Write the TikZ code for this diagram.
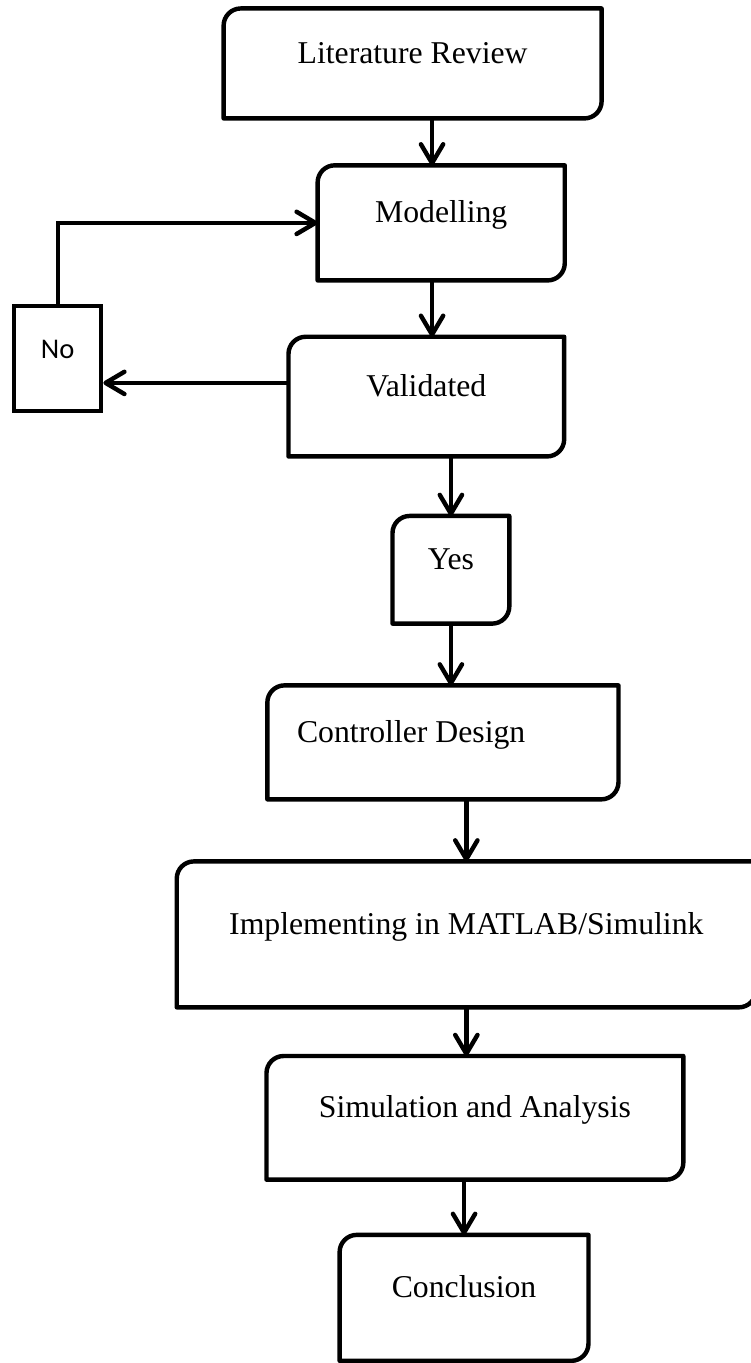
\documentclass[tikz,border=0pt]{standalone}
\usepackage{fontspec}
\setmainfont{Liberation Serif}
\newfontfamily\calibrifont{Carlito}
\usetikzlibrary{arrows.meta}

\begin{document}
\begin{tikzpicture}[
  font=\fontsize{15.8}{19}\selectfont,
  box/.style={inner sep=0pt,text height=0.8em,text depth=0.8em},
  frame/.style={line width=2.2pt,line join=round},
  nobox/.style={draw,line width=2.2pt,inner sep=0pt,text height=0.8em,
                text depth=0.8em,font=\calibrifont\fontsize{14.2}{16}\selectfont},
  flow/.style={-{Straight Barb[length=3.3mm,width=3.9mm,round]},line width=2.2pt}]

\useasboundingbox (0,0) rectangle (13.14,-23.85);

% ---- nodes ------------------------------------------------------------
\node[box,minimum width=6.60cm,minimum height=1.91cm] (lit)  at (7.22,-1.11)  {Literature Review};
\node[box,minimum width=4.31cm,minimum height=2.00cm] (mod)  at (7.72,-3.90)  {Modelling};
\node[box,minimum width=4.81cm,minimum height=2.08cm] (val)  at (7.46,-6.94)  {Validated};
\node[nobox,minimum width=1.52cm,minimum height=1.84cm] (no) at (1.01,-6.27)  {No};
\node[box,minimum width=2.03cm,minimum height=1.87cm] (yes)  at (7.89,-9.97)  {Yes};
\node[box,minimum width=6.13cm,minimum height=1.98cm] (ctl)  at (7.75,-12.99) {Controller Design\kern2em};
\node[box,minimum width=10.12cm,minimum height=2.54cm] (impl) at (8.16,-16.35) {Implementing in MATLAB/Simulink};
\node[box,minimum width=7.28cm,minimum height=2.15cm] (sim)  at (8.31,-19.56) {Simulation and Analysis};
\node[box,minimum width=4.34cm,minimum height=2.19cm] (conc) at (8.12,-22.71) {Conclusion};

% ---- frames: round top-left and bottom-right corners -----------------
\foreach \n in {lit,mod,val,yes,ctl,impl,sim,conc}
  \draw[frame] (\n.north) -- (\n.north east)
        [rounded corners=3mm] -- (\n.south east)
        [sharp corners] -- (\n.south west)
        [rounded corners=3mm] -- (\n.north west)
        [sharp corners] -- cycle;

% ---- edges ------------------------------------------------------------
\draw[flow] ([xshift=3.4mm]lit.south) -- ([xshift=3.4mm]lit.south |- mod.north);
\draw[flow] ([xshift=-1.6mm]mod.south) -- ([xshift=-1.6mm]mod.south |- val.north);
\draw[flow] (yes.north |- val.south) -- (yes.north);
\draw[flow] (yes.south) -- (yes.south |- ctl.north);
\draw[flow] (impl.north |- ctl.south) -- (impl.north);
\draw[flow] (impl.south) -- (impl.south |- sim.north);
\draw[flow] (conc.north |- sim.south) -- (conc.north);
\draw[flow] ([yshift=2.4mm]val.west) -- ([yshift=2.4mm]val.west -| no.east);
\draw[flow] (no.north) |- (mod.west);
\end{tikzpicture}
\end{document}
